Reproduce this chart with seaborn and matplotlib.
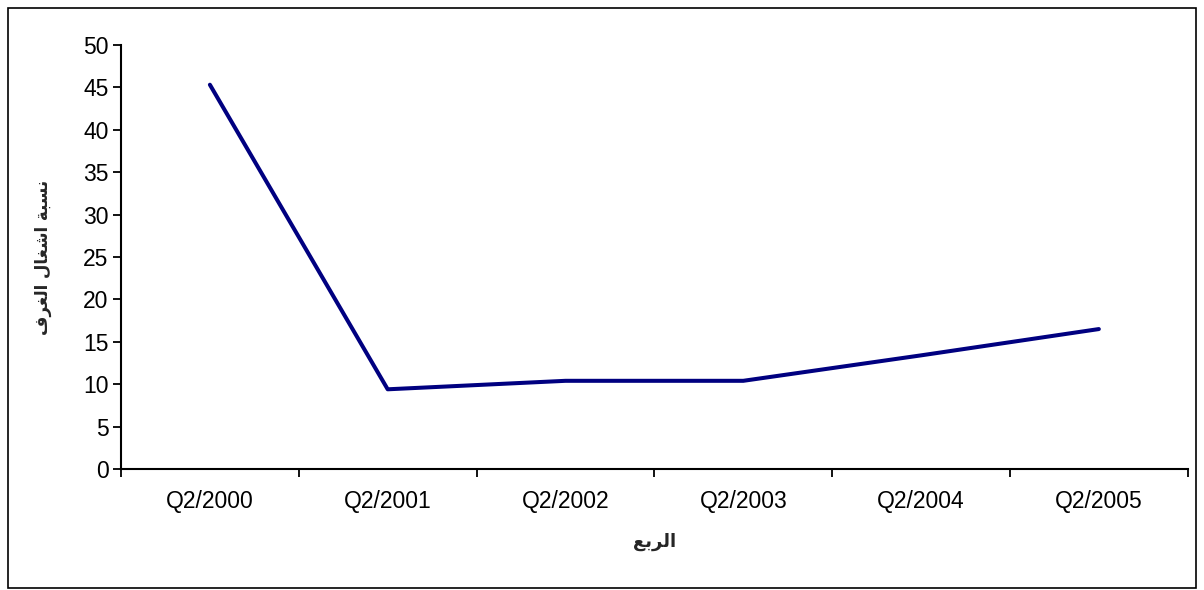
import numpy as np
import pandas as pd
import matplotlib
matplotlib.use('Agg')
import matplotlib.pyplot as plt
import seaborn as sns
from matplotlib.patches import Rectangle

quarters = ['Q2/2000', 'Q2/2001', 'Q2/2002', 'Q2/2003', 'Q2/2004', 'Q2/2005']
occupancy = [45.3, 9.4, 10.4, 10.4, 13.4, 16.5]

# Arabic labels, pre-shaped (presentation forms, visual order) since matplotlib has no bidi
ylabel_text = '\ufed1\ufeae\ufed0\ufedf\ufe8d \ufedd\ufe8e\ufed0\ufeb7\ufe8d \ufe94\ufe92\ufeb4\ufee7'  # نسبة اشغال الغرف
xlabel_text = '\ufeca\ufe91\ufeae\ufedf\ufe8d'  # الربع

sns.set_style('white')
plt.rcParams['font.family'] = ['Liberation Sans', 'DejaVu Sans']

df = pd.DataFrame({'quarter': quarters, 'occupancy': occupancy})

fig = plt.figure(figsize=(12.04, 5.9), dpi=100)
ax = fig.add_axes([0.1005, 0.205, 0.886, 0.719])

sns.lineplot(data=df, x='quarter', y='occupancy', color='#000080', linewidth=2.9,
             ax=ax, sort=False, solid_capstyle='round')

ax.set_ylim(0, 50)
ax.set_yticks(np.arange(0, 51, 5))
ax.set_xlim(-0.5, len(quarters) - 0.5)
ax.set_xticks(range(len(quarters)))
ax.set_xticklabels(quarters)
ax.set_xticks(np.arange(-0.5, len(quarters), 1.0), minor=True)
ax.tick_params(axis='x', which='major', bottom=True, length=0, pad=15, labelsize=16.5, colors='black')
ax.tick_params(axis='x', which='minor', bottom=True, length=6, width=1.3, direction='out', color='black')
ax.tick_params(axis='y', left=True, length=6, width=1.3, direction='out', labelsize=16.5, pad=3, colors='black')

for s in ['top', 'right']:
    ax.spines[s].set_visible(False)
for s in ['left', 'bottom']:
    ax.spines[s].set_color('black')
    ax.spines[s].set_linewidth(1.5)

ax.set_xlabel(xlabel_text, family=['DejaVu Sans'], fontweight='bold', fontsize=13, labelpad=14)
ax.set_ylabel(ylabel_text, family=['DejaVu Sans'], fontweight='bold', fontsize=12, labelpad=22)

fig.patches.append(Rectangle((8 / 1204, 2 / 590), 1188 / 1204, 580 / 590, transform=fig.transFigure,
                             fill=False, edgecolor='black', linewidth=1.2))

fig.savefig('out.png', dpi=100)
